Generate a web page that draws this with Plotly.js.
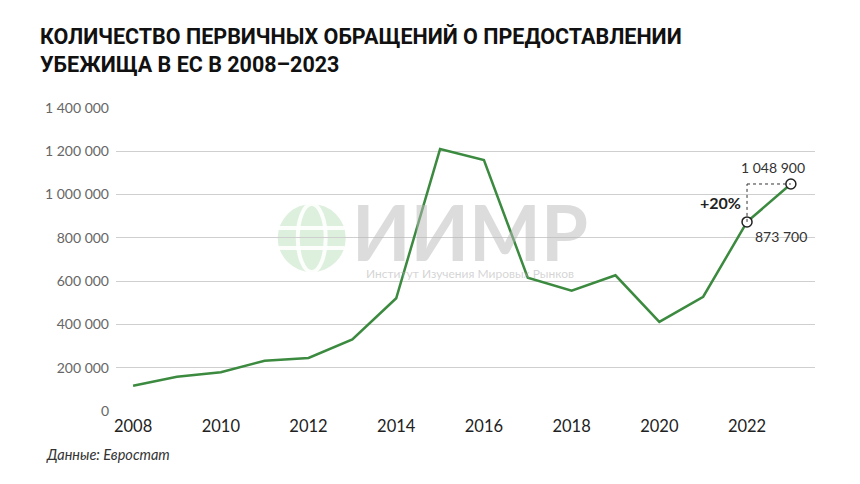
<!DOCTYPE html>
<html><head><meta charset="utf-8">
<script src="https://cdn.plot.ly/plotly-3.0.1.min.js"></script>
<style>html,body{margin:0;padding:0;background:#fff}#c{width:860px;height:484px}</style>
</head><body><div id="c"></div>
<script>
const years = [2008,2009,2010,2011,2012,2013,2014,2015,2016,2017,2018,2019,2020,2021,2022,2023];
const applications = [117000,158000,179000,232000,245000,331000,521000,1210000,1159000,616000,556000,627000,412000,528000,873700,1048900];
const yTicks = [0,200000,400000,600000,800000,1000000,1200000,1400000];
const xTicks = [2008,2010,2012,2014,2016,2018,2020,2022];
const titleText = 'КОЛИЧЕСТВО ПЕРВИЧНЫХ ОБРАЩЕНИЙ О ПРЕДОСТАВЛЕНИИ<br>УБЕЖИЩА В ЕС В 2008–2023';
const sourceText = 'Данные: Евростат';
const changeText = '+20%';

const n = years.length;
const fmt = v => String(v).replace(/\B(?=(\d{3})+(?!\d))/g, ' ');
const green = '#3b8a3f';

const traces = [
  {x: years, y: applications, type:'scatter', mode:'lines',
   line:{color:green, width:2.5}, hoverinfo:'skip'},
  {x: years.slice(n-2), y: applications.slice(n-2), type:'scatter', mode:'markers',
   marker:{size:10, color:'#fff', line:{color:'#222', width:1.5}}, hoverinfo:'skip'}
];

const gx = 0.280, gy = 0.571;
const globeLine = {color:'rgba(255,255,255,0.9)', width:4};
const layout = {
  width:860, height:484,
  margin:{l:116, r:45, t:108, b:73},
  paper_bgcolor:'#fff', plot_bgcolor:'rgba(0,0,0,0)',
  showlegend:false,
  separators:'. ',
  font:{family:'Lato, "Noto Sans", sans-serif', color:'#555'},
  xaxis:{range:[2007.61, 2023.55], tickvals:xTicks, ticktext:xTicks.map(String),
    showgrid:false, zeroline:false, showline:false, ticks:'', ticklabelstandoff:3,
    tickfont:{size:16.5, color:'#222', family:'Lato, "Noto Sans", sans-serif'}},
  yaxis:{range:[0,1400000], tickvals:yTicks, ticktext:yTicks.map(fmt),
    showgrid:true, gridcolor:'#cfcfcf', gridwidth:1, zeroline:false, showline:false,
    ticks:'', ticklabelstandoff:6,
    tickfont:{size:14, color:'#666'}},
  shapes:[
    {type:'circle', xref:'paper', yref:'paper', xsizemode:'pixel', ysizemode:'pixel',
     xanchor:gx, yanchor:gy, x0:-34, x1:34, y0:-34, y1:34,
     fillcolor:'rgba(120,190,120,0.25)', line:{width:0}, layer:'below'},
    {type:'circle', xref:'paper', yref:'paper', xsizemode:'pixel', ysizemode:'pixel',
     xanchor:gx, yanchor:gy, x0:-14, x1:14, y0:-34, y1:34,
     fillcolor:'rgba(0,0,0,0)', line:globeLine, layer:'below'},
    {type:'line', xref:'paper', yref:'paper', xsizemode:'pixel', ysizemode:'pixel',
     xanchor:gx, yanchor:gy, x0:-33, x1:33, y0:10, y1:10, line:globeLine, layer:'below'},
    {type:'line', xref:'paper', yref:'paper', xsizemode:'pixel', ysizemode:'pixel',
     xanchor:gx, yanchor:gy, x0:-33, x1:33, y0:-10, y1:-10, line:globeLine, layer:'below'},
    {type:'line', x0:years[n-2], x1:years[n-2], y0:applications[n-2], y1:applications[n-1],
     line:{color:'#333', width:1, dash:'dot'}},
    {type:'line', x0:years[n-2], x1:years[n-1], y0:applications[n-1], y1:applications[n-1],
     line:{color:'#333', width:1, dash:'dot'}}
  ],
  annotations:[
    {xref:'paper', yref:'paper', x:0.506, y:0.592, xanchor:'center', yanchor:'middle',
     text:'<b>ИИМР</b>', showarrow:false, font:{size:76, color:'rgba(185,185,185,0.5)', family:'Lato, sans-serif'}},
    {xref:'paper', yref:'paper', x:0.507, y:0.455, xanchor:'center', yanchor:'middle',
     text:'Институт Изучения Мировых Рынков', showarrow:false, font:{size:12, color:'rgba(170,170,170,0.5)'}},
    {x:years[n-1], y:applications[n-1], xref:'x', yref:'y', text:fmt(applications[n-1]),
     showarrow:false, xanchor:'center', yanchor:'bottom', yshift:6, xshift:-18,
     font:{size:14, color:'#333'}},
    {x:years[n-2], y:applications[n-2], xref:'x', yref:'y', text:fmt(applications[n-2]),
     showarrow:false, xanchor:'left', yanchor:'top', xshift:6, yshift:-4,
     font:{size:14, color:'#333'}},
    {x:years[n-2], y:(applications[n-2]+applications[n-1])/2, xref:'x', yref:'y', text:'<b>'+changeText+'</b>',
     showarrow:false, xanchor:'right', yanchor:'middle', xshift:-4,
     font:{size:16, color:'#222'}},
    {xref:'paper', yref:'paper', x:-0.103, y:-0.11, xanchor:'left', yanchor:'top',
     text:'<i>'+sourceText+'</i>', showarrow:false, font:{size:14.5, color:'#333'}}
  ],
  title:{text:'<b>'+titleText+'</b>', x:40/860, xanchor:'left', xref:'container', y:0.91, yref:'container', yanchor:'top',
    font:{size:21.5, color:'#111', family:'Roboto, "Noto Sans", sans-serif'}}
};

Plotly.newPlot('c', traces, layout, {staticPlot:true, displayModeBar:false});
</script></body></html>
